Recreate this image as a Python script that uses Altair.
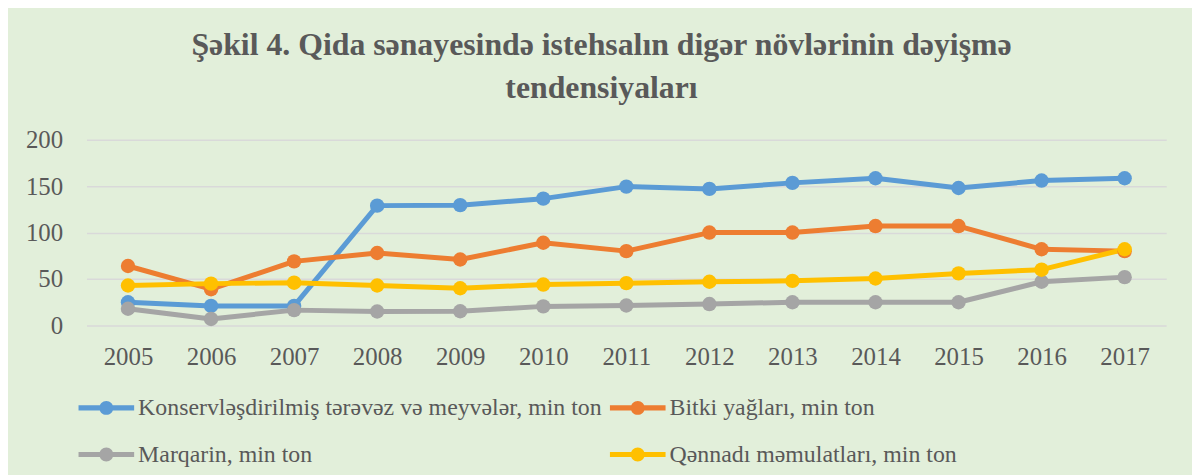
import altair as alt
import pandas as pd

years = ["2005", "2006", "2007", "2008", "2009", "2010", "2011", "2012", "2013", "2014", "2015", "2016", "2017"]
series_names = [
    "Konservləşdirilmiş tərəvəz və meyvələr, min ton",
    "Bitki yağları, min ton",
    "Marqarin, min ton",
    "Qənnadı məmulatları, min ton",
]
konserv = [25, 21, 21, 129, 129.5, 136.5, 149.5, 147, 153.5, 158.5, 148, 156, 158.5]
bitki = [64, 39, 69, 78, 71, 89, 80, 100, 100, 107, 107, 82, 80]
marqarin = [18, 7, 16.5, 15, 15.3, 20.5, 21.5, 23, 25, 25, 25, 47, 52]
qennadi = [43, 45, 46, 43, 40, 44, 45.5, 47, 48, 50.5, 56, 60, 82]
colors = ["#5B9BD5", "#ED7D31", "#A5A5A5", "#FFC000"]

rows = []
for name, vals in zip(series_names, [konserv, bitki, marqarin, qennadi]):
    for y, v in zip(years, vals):
        rows.append({"il": y, "seriya": name, "deger": v})
df = pd.DataFrame(rows)

text_color = "#595959"
serif = "Liberation Serif"

color_scale = alt.Scale(domain=series_names, range=colors)

legend_symbol = ("M-1,-0.09L1,-0.09L1,0.09L-1,0.09Z "
                 "M0.25,0A0.25,0.25 0 1,1 -0.25,0A0.25,0.25 0 1,1 0.25,0Z")

legend = alt.Legend(
    title=None, orient="none", legendX=-8, legendY=242, direction="horizontal",
    columns=2, columnPadding=8, rowPadding=7,
    symbolType=legend_symbol, symbolSize=3136,
    symbolStrokeWidth=0, symbolOpacity=1,
    labelFont=serif, labelFontSize=24, labelColor=text_color,
    labelLimit=700, labelOffset=4,
)

x_enc = alt.X("il:O", title=None, sort=years,
              scale=alt.Scale(type="point", padding=0.5),
              axis=alt.Axis(labelAngle=0, domain=False, ticks=False, grid=False,
                            labelFont=serif, labelFontSize=25, labelColor=text_color,
                            labelPadding=19))
y_enc = alt.Y("deger:Q", title=None,
              scale=alt.Scale(domain=[0, 200], nice=False),
              axis=alt.Axis(values=[0, 50, 100, 150, 200], domain=False, ticks=False,
                            grid=True, gridColor="#D9D9D9", gridWidth=1.5,
                            labelFont=serif, labelFontSize=25, labelColor=text_color,
                            labelPadding=24))

color_enc = alt.Color("seriya:N", scale=color_scale, sort=series_names, legend=legend)

base = alt.Chart(df)

lines = base.mark_line(strokeWidth=5, strokeJoin="round", strokeCap="round").encode(
    x=x_enc, y=y_enc,
    color=color_enc,
    order=alt.Order("il:O"),
)

points = base.mark_point(filled=True, size=210, opacity=1).encode(
    x=x_enc, y=y_enc,
    color=color_enc,
)

chart = alt.layer(lines, points).properties(
    width=1087,
    height=187,
    autosize=alt.AutoSizeParams(type="none"),
    padding={"left": 79, "top": 131, "right": 26, "bottom": 149},
    title=alt.TitleParams(
        text=["Şəkil 4. Qida sənayesində istehsalın digər növlərinin dəyişmə", "tendensiyaları"],
        font=serif, fontSize=32, fontWeight="bold", color=text_color,
        anchor="middle", dx=-25, lineHeight=43, offset=23,
    ),
).configure(background="#E2EFDA").configure_view(stroke=None)

chart.save("out.html", embed_options={"renderer": "svg", "actions": False})
